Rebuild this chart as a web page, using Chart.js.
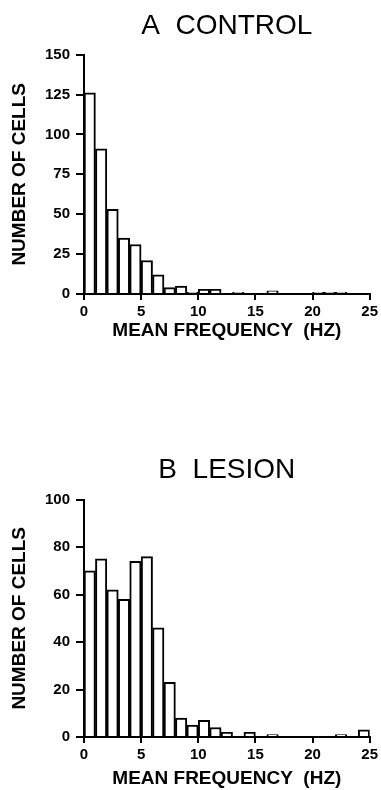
<!DOCTYPE html>
<html>
<head>
<meta charset="utf-8">
<script src="https://cdn.jsdelivr.net/npm/chart.js@4.4.1/dist/chart.umd.min.js"></script>
<style>
  html, body { margin: 0; padding: 0; background: #fff; }
  body { width: 381px; height: 790px; position: relative; overflow: hidden; }
  canvas { position: absolute; left: 0; }
</style>
</head>
<body>
<canvas id="control" width="381" height="345" style="top:0px"></canvas>
<canvas id="lesion" width="381" height="360" style="top:430px"></canvas>
<script>
// 1 Hz bins, left edges
const binStarts = [0, 1, 2, 3, 4, 5, 6, 7, 8, 9, 10, 11, 12, 13, 14, 15, 16, 17, 18, 19, 20, 21, 22, 23, 24];
const controlCounts = [126, 91, 53, 35, 31, 21, 12, 4, 5, 1, 3, 3, 0, 1, 0, 0, 2, 0, 0, 0, 1, 1, 1, 0, 0];
const lesionCounts = [70, 75, 62, 58, 74, 76, 46, 23, 8, 5, 7, 4, 2, 0, 2, 0, 1, 0, 0, 0, 0, 0, 1, 0, 3];
const xTicks = [0, 5, 10, 15, 20, 25];
const controlYTicks = [0, 25, 50, 75, 100, 125, 150];
const lesionYTicks = [0, 20, 40, 60, 80, 100];

const FONT = '"Liberation Sans", Arial, sans-serif';

function histogram(id, title, counts, yTicks, box) {
  const ctx = document.getElementById(id).getContext('2d');
  return new Chart(ctx, {
    type: 'bar',
    data: {
      datasets: [{
        data: binStarts.map((b, i) => ({ x: b + 0.5, y: counts[i] })),
        backgroundColor: '#fff',
        borderColor: '#000',
        borderWidth: 2,
        barPercentage: 1,
        categoryPercentage: 1,
      }]
    },
    options: {
      responsive: false,
      animation: false,
      layout: { padding: { left: 4, right: box.right, top: 0, bottom: 0 } },
      plugins: {
        legend: { display: false },
        tooltip: { enabled: false },
        title: {
          display: true,
          text: title,
          fullSize: false,
          color: '#000',
          font: { family: FONT, size: 28, weight: 'normal' },
          padding: { top: box.titleTop, bottom: box.titleBottom },
        },
      },
      scales: {
        x: {
          type: 'linear',
          min: 0,
          max: 25,
          offset: false,
          afterBuildTicks: (s) => { s.ticks = xTicks.map(v => ({ value: v })); },
          afterFit: (s) => { s.height = box.xHeight; },
          grid: { offset: false, drawOnChartArea: false, color: '#000', lineWidth: 2, tickLength: 6 },
          border: { color: '#000', width: 2 },
          ticks: { color: '#000', padding: 3, maxRotation: 0, font: { family: FONT, size: 15, weight: 'bold' } },
          title: {
            display: true,
            text: 'MEAN FREQUENCY  (HZ)',
            color: '#000',
            font: { family: FONT, size: 19, weight: 'bold' },
            padding: { top: 0, bottom: box.xTitleBottom },
          },
        },
        y: {
          min: 0,
          max: yTicks[yTicks.length - 1],
          afterBuildTicks: (s) => { s.ticks = yTicks.map(v => ({ value: v })); },
          afterFit: (s) => { s.width = 80; },
          grid: { drawOnChartArea: false, color: '#000', lineWidth: 2, tickLength: 8 },
          border: { color: '#000', width: 2 },
          ticks: { color: '#000', padding: 6, font: { family: FONT, size: 15, weight: 'bold' } },
          title: {
            display: true,
            text: 'NUMBER OF CELLS',
            color: '#000',
            font: { family: FONT, size: 19, weight: 'bold' },
            padding: { top: 4, bottom: 4 },
          },
        },
      },
    },
  });
}

histogram('control', 'A  CONTROL', controlCounts, controlYTicks,
  { right: 11, titleTop: 9, titleBottom: 12, xHeight: 51, xTitleBottom: 3 });
histogram('lesion', 'B  LESION', lesionCounts, lesionYTicks,
  { right: 10, titleTop: 23, titleBottom: 13, xHeight: 53, xTitleBottom: 0 });
</script>
</body>
</html>
